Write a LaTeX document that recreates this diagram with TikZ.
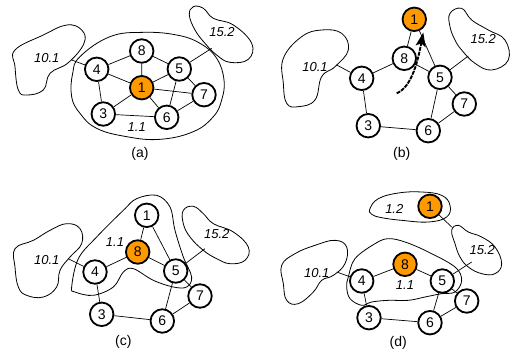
\documentclass[tikz,border=0pt]{standalone}
\usepackage{fontspec}
\setmainfont{Liberation Sans}
\usetikzlibrary{arrows.meta}
\definecolor{orng}{RGB}{255,153,0}
\begin{document}
\begin{tikzpicture}[x=1pt,y=-1pt,
 nd/.style={circle,draw,line width=1.8pt,minimum size=23.5pt,inner sep=0pt,fill=white,font=\fontsize{14}{14}\selectfont},
 hot/.style={nd,fill=orng},
 edge/.style={line width=0.7pt},
 blob/.style={line width=0.8pt},
 lbl/.style={font=\fontsize{13}{13}\selectfont\itshape},
 captxt/.style={font=\fontsize{14}{14}\selectfont}]
\useasboundingbox (0,0) rectangle (515,354);

% ================= (a) =================
\begin{scope}[scale=1/3]
\draw[blob] plot[smooth cycle,tension=0.7] coordinates {(45,150) (130,105) (200,75) (245,90) (252,130) (205,188) (150,220) (130,270) (80,285) (55,270) (45,200)};
\draw[blob] plot[smooth cycle,tension=0.7] coordinates {(568,45) (580,20) (610,25) (640,55) (700,75) (755,130) (745,178) (690,187) (650,165) (615,130) (585,90)};
\draw[blob] plot[smooth cycle,tension=0.7] coordinates {(240,170) (330,110) (430,97) (530,105) (600,130) (650,175) (672,240) (665,300) (640,350) (580,395) (480,418) (380,410) (290,385) (240,340) (215,290) (218,220)};
\end{scope}
\coordinate (a10) at (71.7,60);
\coordinate (a15) at (211.7,48.3);
\node[nd]  (a8) at (141.7,51) {8};
\node[nd]  (a4) at (96.7,69.3) {4};
\node[nd]  (a5) at (179.3,69) {5};
\node[hot] (a1) at (141.7,87.7) {1};
\node[nd]  (a7) at (204,94.7) {7};
\node[nd]  (a3) at (103.3,114) {3};
\node[nd]  (a6) at (166.7,117.3) {6};
\draw[edge] (a4)--(a8) (a8)--(a5) (a8)--(a1) (a4)--(a1) (a4)--(a3) (a1)--(a3) (a1)--(a5) (a1)--(a7) (a1)--(a6) (a5)--(a7) (a5)--(a6) (a3)--(a6) (a6)--(a7) (a10)--(a4) (a15)--(a5);
\node[lbl] (la10) at (46.7,58.3) {10.1};
\node[lbl] (la15) at (222,32.3) {15.2};
\node[lbl] (la11) at (136.7,127.3) {1.1};
\node[captxt] (capa) at (140,154) {(a)};

% ================= (b) =================
\begin{scope}[shift={(255,0)},scale=1/3]
\draw[blob] plot[smooth cycle,tension=0.7] coordinates {(85,175) (140,110) (200,90) (260,100) (280,150) (240,200) (200,230) (180,300) (130,320) (95,310) (85,250)};
\draw[blob] plot[smooth cycle,tension=0.7] coordinates {(585,40) (620,25) (650,60) (700,90) (750,120) (760,180) (710,210) (660,190) (620,150) (600,120) (585,80)};
\end{scope}
\coordinate (b10) at (336.7,65);
\coordinate (b15) at (468.3,56);
\node[hot] (b1) at (414.3,19.3) {1};
\node[nd]  (b8) at (404.3,58.3) {8};
\node[nd]  (b4) at (361.7,78.3) {4};
\node[nd]  (b5) at (440,77.3) {5};
\node[nd]  (b7) at (464.3,104) {7};
\node[nd]  (b3) at (368.3,125.7) {3};
\node[nd]  (b6) at (428.3,130.7) {6};
\draw[edge] (b1)--(b8) (b1)--(b5) (b8)--(b4) (b8)--(b5) (b4)--(b3) (b3)--(b6) (b6)--(b5) (b6)--(b7) (b5)--(b7) (b10)--(b4) (b15)--(b5);
\coordinate (arrS) at (396.7,93.3);
\coordinate (arrE) at (423.3,32.5);
\draw[line width=1.9pt,dash pattern=on 4pt off 1pt,-{Stealth[length=14pt,width=10pt,inset=3pt]}] (arrS) .. controls (412,87) and (418,60) .. (arrE);
\node[lbl] (lb10) at (315,66.7) {10.1};
\node[lbl] (lb15) at (483.3,39.3) {15.2};
\node[captxt] (capb) at (401.7,154) {(b)};

% ================= (c) =================
\begin{scope}[shift={(0,177)},scale=1/3]
\draw[blob] plot[smooth cycle,tension=0.7] coordinates {(45,215) (100,190) (150,160) (200,140) (240,155) (245,200) (210,240) (180,280) (170,330) (130,360) (80,355) (55,330) (45,270)};
\draw[blob] plot[smooth cycle,tension=0.7] coordinates {(550,100) (580,88) (610,110) (640,140) (700,165) (745,210) (735,250) (690,260) (650,245) (610,220) (570,180) (550,140)};
\draw[blob] plot[smooth cycle,tension=0.6] coordinates {(215,330) (235,245) (290,180) (370,100) (410,65) (470,55) (510,90) (525,160) (550,240) (575,300) (560,330) (520,330) (460,310) (400,275) (370,285) (340,330) (280,355) (225,345)};
\end{scope}
\coordinate (c10) at (68.3,258.7);
\coordinate (c15) at (205,248.7);
\node[nd]  (c1) at (146.7,215.3) {1};
\node[hot] (c8) at (137.7,252) {8};
\node[nd]  (c4) at (95,272) {4};
\node[nd]  (c5) at (175.7,271) {5};
\node[nd]  (c7) at (200,296) {7};
\node[nd]  (c3) at (101.7,314.3) {3};
\node[nd]  (c6) at (162.3,321) {6};
\draw[edge] (c1)--(c8) (c1)--(c5) (c8)--(c4) (c8)--(c5) (c4)--(c3) (c3)--(c6) (c6)--(c5) (c6)--(c7) (c5)--(c7) (c10)--(c4) (c15)--(c5);
\node[lbl] (lc10) at (46.7,260.3) {10.1};
\node[lbl] (lc15) at (216.7,234.3) {15.2};
\node[lbl] (lc11) at (115,242) {1.1};
\node[captxt] (capc) at (123.3,342) {(c)};

% ================= (d) =================
\begin{scope}[shift={(255,177)},scale=1/3]
\draw[blob] plot[smooth cycle,tension=0.7] coordinates {(80,265) (120,230) (180,205) (240,190) (275,210) (270,260) (235,295) (200,310) (175,345) (130,380) (95,370) (85,320)};
\draw[blob] plot[smooth cycle,tension=0.7] coordinates {(590,160) (610,145) (640,165) (680,180) (720,210) (740,260) (720,290) (680,290) (640,270) (615,240) (600,200)};
\draw[blob] plot[smooth cycle,tension=0.7] coordinates {(345,95) (370,65) (430,48) (500,45) (560,55) (585,85) (575,120) (520,135) (440,130) (380,122) (350,112)};
\draw[blob] plot[smooth cycle,tension=0.6] coordinates {(280,300) (300,245) (360,200) (400,185) (450,195) (520,225) (600,270) (620,310) (600,345) (560,350) (510,360) (460,370) (400,370) (350,375) (320,385) (285,365) (275,330)};
\end{scope}
\coordinate (d10) at (336.7,272);
\coordinate (d15) at (471.7,262);
\coordinate (d15b) at (451.7,227);
\node[hot] (d1) at (430,206.3) {1};
\node[hot] (d8) at (405,264.3) {8};
\node[nd]  (d4) at (361.7,281) {4};
\node[nd]  (d5) at (442.3,281) {5};
\node[nd]  (d7) at (466.7,301) {7};
\node[nd]  (d3) at (369,317.7) {3};
\node[nd]  (d6) at (430,322.7) {6};
\draw[edge] (d8)--(d4) (d8)--(d5) (d4)--(d3) (d3)--(d6) (d5)--(d6) (d6)--(d7) (d5)--(d7) (d10)--(d4) (d15)--(d5) (d1)--(d15b);
\node[lbl] (ld12) at (394.3,209.3) {1.2};
\node[lbl] (ld15) at (482.3,249.7) {15.2};
\node[lbl] (ld10) at (316.7,273) {10.1};
\node[lbl] (ld11) at (405,285.3) {1.1};
\node[captxt] (capd) at (398.3,342.7) {(d)};
\end{tikzpicture}
\end{document}
